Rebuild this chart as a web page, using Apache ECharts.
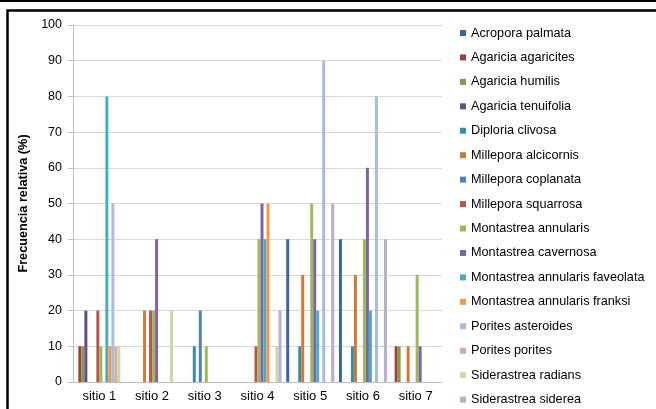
<!DOCTYPE html>
<html>
<head>
<meta charset="utf-8">
<script src="https://cdn.jsdelivr.net/npm/echarts@6/dist/echarts.min.js"></script>
<style>
html,body{margin:0;padding:0;background:#fff;}
#c{width:656px;height:409px;}
</style>
</head>
<body>
<div id="c"></div>
<script>
const categories = ['sitio 1','sitio 2','sitio 3','sitio 4','sitio 5','sitio 6','sitio 7'];
const seriesNames = [
  'Acropora palmata','Agaricia agaricites','Agaricia humilis','Agaricia tenuifolia',
  'Diploria clivosa','Millepora alcicornis','Millepora coplanata','Millepora squarrosa',
  'Montastrea annularis','Montastrea cavernosa','Montastrea annularis faveolata',
  'Montastrea annularis franksi','Porites asteroides','Porites porites',
  'Siderastrea radians','Siderastrea siderea'
];
const acroporaPalmata        = [0, 0, 0, 0, 40, 40, 0];
const agariciaAgaricites     = [10, 0, 0, 0, 0, 0, 10];
const agariciaHumilis        = [10, 0, 0, 0, 0, 0, 10];
const agariciaTenuifolia     = [20, 0, 0, 0, 0, 0, 0];
const diploriaClivosa        = [0, 0, 10, 0, 10, 10, 0];
const milleporaAlcicornis    = [0, 20, 0, 0, 30, 30, 10];
const milleporaCoplanata     = [0, 0, 20, 0, 0, 0, 0];
const milleporaSquarrosa     = [20, 20, 0, 10, 0, 0, 0];
const montastreaAnnularis    = [10, 20, 10, 40, 50, 40, 30];
const montastreaCavernosa    = [0, 40, 0, 50, 40, 60, 10];
const montastreaFaveolata    = [80, 0, 0, 40, 20, 20, 0];
const montastreaFranksi      = [10, 0, 0, 50, 0, 0, 0];
const poritesAsteroides      = [50, 0, 0, 0, 90, 80, 0];
const poritesPorites         = [10, 0, 0, 0, 0, 0, 0];
const siderastreaRadians     = [10, 20, 0, 10, 0, 0, 0];
const siderastreaSiderea     = [0, 0, 0, 20, 50, 40, 0];
const yTicks = [0,10,20,30,40,50,60,70,80,90,100];

const seriesValues = [
  acroporaPalmata, agariciaAgaricites, agariciaHumilis, agariciaTenuifolia,
  diploriaClivosa, milleporaAlcicornis, milleporaCoplanata, milleporaSquarrosa,
  montastreaAnnularis, montastreaCavernosa, montastreaFaveolata, montastreaFranksi,
  poritesAsteroides, poritesPorites, siderastreaRadians, siderastreaSiderea
];
const colors = [
  '#3C679E','#A33C3A','#7F9D46','#654D86','#378EA6','#D27A35',
  '#4F81BD','#C0504D','#9BBB59','#8064A2','#4BACC6','#F79646',
  '#A9BCDD','#DDA8A7','#C8DAAA','#BAAECF'
];
const FONT = '"Liberation Sans", Arial, sans-serif';

const chart = echarts.init(document.getElementById('c'), null, {renderer:'canvas'});
chart.setOption({
  animation: false,
  color: colors,
  textStyle: {fontFamily: FONT},
  grid: {left: 73, right: 214, top: 25, bottom: 27, containLabel: false},
  legend: {
    orient: 'vertical', left: 460, top: 26.5, padding: 0, height: 382,
    itemWidth: 6, itemHeight: 6, itemGap: 11.44, itemTextGap: 2,
    icon: 'rect',
    textStyle: {fontFamily: FONT, fontSize: 12.7, lineHeight: 13, color: '#000'},
    data: seriesNames
  },
  xAxis: {
    type: 'category', data: categories,
    axisLine: {lineStyle: {color: '#BFBFBF', width: 1}},
    axisTick: {show: false},
    axisLabel: {fontFamily: FONT, fontSize: 13, color: '#000', margin: 8}
  },
  yAxis: {
    type: 'value', min: yTicks[0], max: yTicks[yTicks.length-1], interval: 10,
    name: 'Frecuencia relativa (%)', nameLocation: 'middle', nameRotate: 90, nameGap: 36,
    nameTextStyle: {fontFamily: FONT, fontSize: 12.7, fontWeight: 'bold', color: '#000'},
    axisLine: {show: true, lineStyle: {color: '#BFBFBF', width: 1}},
    axisTick: {show: true, length: 5, lineStyle: {color: '#BFBFBF'}},
    axisLabel: {fontFamily: FONT, fontSize: 12.5, color: '#000', margin: 11},
    splitLine: {lineStyle: {color: '#D9D9D9', width: 1}}
  },
  graphic: [
    {type: 'line', shape: {x1: 0, y1: 1, x2: 656, y2: 1}, style: {stroke: '#000', lineWidth: 2}, silent: true},
    {type: 'rect', shape: {x: 7.5, y: 10.5, width: 700, height: 500}, style: {fill: 'none', stroke: '#000', lineWidth: 2.5}, silent: true}
  ],
  series: seriesNames.map((n, i) => ({
    name: n, type: 'bar', data: seriesValues[i],
    barWidth: 3, barGap: '0%'
  }))
});
</script>
</body>
</html>
